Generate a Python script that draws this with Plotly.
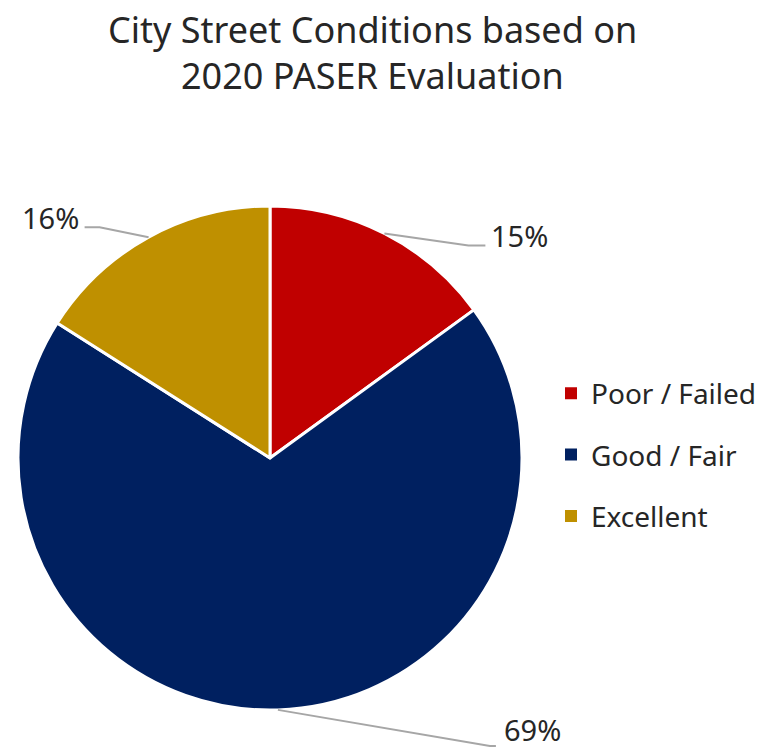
import math
import plotly.graph_objects as go

# ---- data ----
categories = ["Poor / Failed", "Good / Fair", "Excellent"]
values = [15, 69, 16]
colors = ["#C00000", "#002060", "#BF9000"]
title_lines = ["City Street Conditions based on", "2020 PASER Evaluation"]

# ---- layout constants (pixels) ----
W, H = 782, 751
CX, CY, R = 270, 458, 252
FONT = "Noto Sans"

# leader-line styling per label: (elbow dx, elbow dy, tail dx, text dx, text dy, anchor)
label_style = [
    (84, 12, 17, 4, -10, "left"),
    (212, 36, 6, 6, -16, "left"),
    (-49, -10, -15, -4, -10, "right"),
]


def px2paper(x, y):
    return x / W, 1 - y / H


fig = go.Figure()
fig.add_trace(go.Pie(
    labels=categories, values=values, sort=False, direction="clockwise",
    rotation=0, textinfo="none", hoverinfo="label+percent",
    marker=dict(colors=colors, line=dict(color="white", width=3)),
    domain=dict(x=[(CX - R) / W, (CX + R) / W], y=[1 - (CY + R) / H, 1 - (CY - R) / H]),
    showlegend=False,
))

# legend entries via dummy traces, so spacing can be controlled
for i, (c, col) in enumerate(zip(categories, colors)):
    fig.add_trace(go.Scatter(
        x=[None], y=[None], mode="markers", name=c, legendgroup=f"g{i}",
        marker=dict(symbol="square", size=12, color=col),
    ))

total = sum(values)
cum = 0
shapes, annotations = [], []
for v, st in zip(values, label_style):
    mid = (cum + v / 2) / total * 2 * math.pi
    cum += v
    ex, ey = CX + R * math.sin(mid), CY - R * math.cos(mid)
    bx, by = ex + st[0], ey + st[1]
    tx, ty = bx + st[2], by
    p = [px2paper(*q) for q in [(ex, ey), (bx, by), (tx, ty)]]
    shapes.append(dict(
        type="path", xref="paper", yref="paper",
        path=f"M {p[0][0]} {p[0][1]} L {p[1][0]} {p[1][1]} L {p[2][0]} {p[2][1]}",
        line=dict(color="#A6A6A6", width=2),
    ))
    lx, ly = px2paper(tx + st[3], ty + st[4])
    annotations.append(dict(
        x=lx, y=ly, xref="paper", yref="paper", text=f"{v}%", showarrow=False,
        xanchor=st[5], yanchor="middle",
        font=dict(family=FONT, size=29, color="#262626"),
    ))

# title as two centred lines
for i, line in enumerate(title_lines):
    tx, ty = px2paper(372, 30 + 45 * i)
    annotations.append(dict(
        x=tx, y=ty, xref="paper", yref="paper", text=line, showarrow=False,
        xanchor="center", yanchor="middle",
        font=dict(family=FONT, size=36, color="#262626"),
    ))

fig.update_layout(
    width=W, height=H, margin=dict(l=0, r=0, t=0, b=0),
    paper_bgcolor="white", plot_bgcolor="white",
    xaxis=dict(visible=False), yaxis=dict(visible=False),
    legend=dict(x=551 / W, y=1 - 455 / H, xanchor="left", yanchor="middle",
                font=dict(family=FONT, size=28, color="#262626"),
                tracegroupgap=22, itemwidth=30, bgcolor="rgba(0,0,0,0)"),
    shapes=shapes, annotations=annotations,
)

fig.write_html("out.html")
